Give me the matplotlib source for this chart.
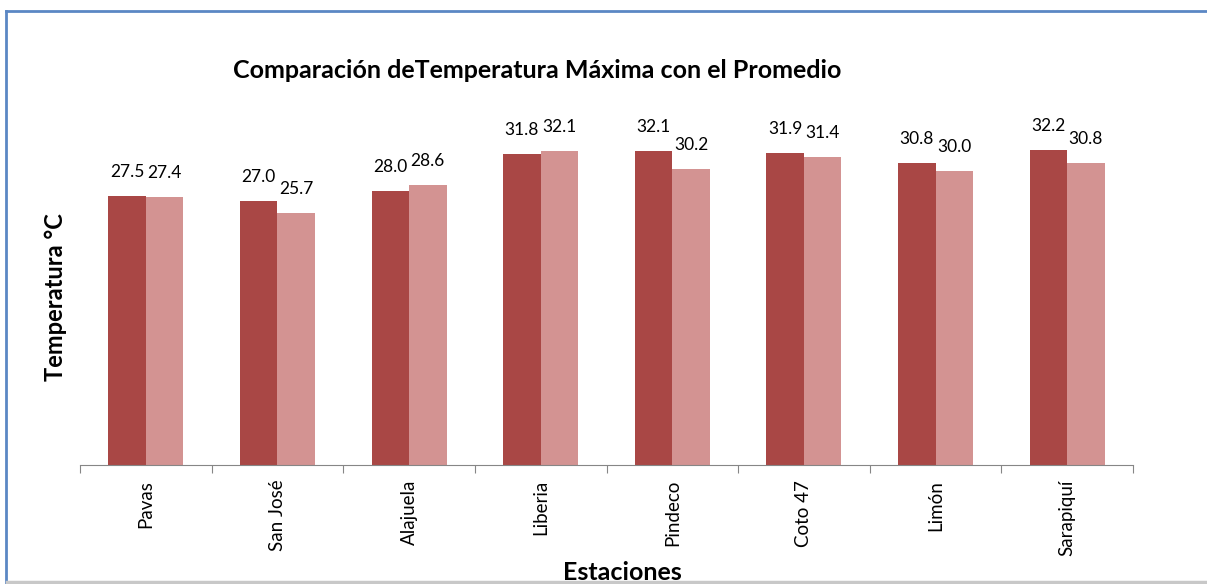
import matplotlib.pyplot as plt
from matplotlib.lines import Line2D
import numpy as np

plt.rcParams['font.family'] = ['Lato', 'DejaVu Sans']

estaciones = ["Pavas", "San José", "Alajuela", "Liberia", "Pindeco", "Coto 47", "Limón", "Sarapiquí"]
maxima = [27.5, 27.0, 28.0, 31.8, 32.1, 31.9, 30.8, 32.2]
promedio = [27.4, 25.7, 28.6, 32.1, 30.2, 31.4, 30.0, 30.8]

dark = "#A94745"
light = "#D39392"

fig = plt.figure(figsize=(12.07, 5.84), dpi=100)
ax = fig.add_axes([0.0663, 0.2038, 0.8724, 0.587])

x = np.arange(len(estaciones))
w = 0.285
b1 = ax.bar(x - w / 2, maxima, w, color=dark)
b2 = ax.bar(x + w / 2, promedio, w, color=light)

for bars, vals in ((b1, maxima), (b2, promedio)):
    for r, v in zip(bars, vals):
        ax.annotate(f"{v:.1f}", (r.get_x() + r.get_width() / 2, v),
                    xytext=(0, 16), textcoords="offset pixels",
                    ha="center", va="bottom", fontsize=12.5)

ax.set_xlim(-0.5, len(estaciones) - 0.5)
ax.set_ylim(0, 35)
ax.set_yticks([])
for s in ("left", "right", "top"):
    ax.spines[s].set_visible(False)
ax.spines["bottom"].set_color("#868686")
ax.set_xticks(np.arange(len(estaciones) + 1) - 0.5, minor=False)
ax.set_xticklabels([])
ax.tick_params(axis="x", length=6, color="#868686", direction="out")
for i, name in enumerate(estaciones):
    ax.text(i, -1.5, name, rotation=90, ha="center", va="top", fontsize=13.5)

fig.text(0.445, 0.88, "Comparación deTemperatura Máxima con el Promedio",
         ha="center", va="center", fontsize=18, fontweight="bold")
fig.text(0.046, 0.492, "Temperatura °C", rotation=90, ha="center", va="center",
         fontsize=17, fontweight="bold")
fig.text(0.516, 0.02, "Estaciones", ha="center", va="center",
         fontsize=18, fontweight="bold")

# frame
fig.add_artist(Line2D([6 / 1207, 6 / 1207], [0, 1 - 11 / 584], color="#5B87C4", lw=2, transform=fig.transFigure))
fig.add_artist(Line2D([6 / 1207, 1], [1 - 11 / 584, 1 - 11 / 584], color="#5B87C4", lw=2, transform=fig.transFigure))
fig.add_artist(Line2D([7 / 1207, 1], [2 / 584, 2 / 584], color="#C8C8C8", lw=2.5, transform=fig.transFigure))

fig.savefig("out.png", dpi=100)
